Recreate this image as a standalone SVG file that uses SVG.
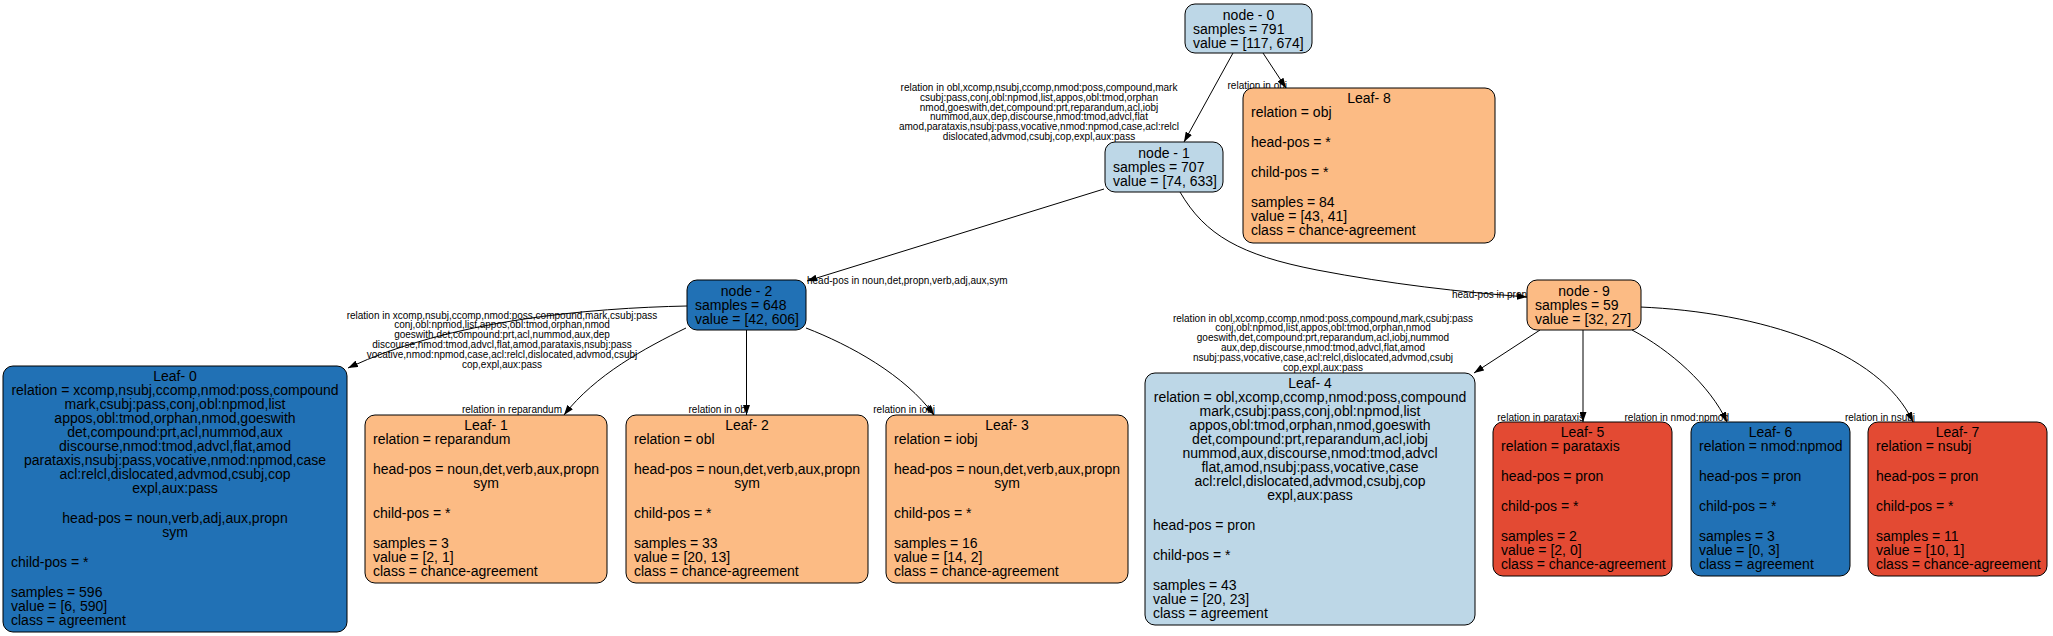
<svg xmlns="http://www.w3.org/2000/svg" width="2053" height="636" viewBox="0 0 2053 636">
<defs>
<style>
.t{font-family:"Liberation Sans",Arial,Helvetica,sans-serif;font-size:14px;fill:#000}
.c{text-anchor:middle}
.e{font-family:"Liberation Sans",Arial,Helvetica,sans-serif;font-size:10px;fill:#000}
.em{text-anchor:middle}
.ee{text-anchor:end}
.box{stroke:#000;stroke-width:1}
.lb{fill:#bdd7e7}
.db{fill:#2171b5}
.or{fill:#fcbb84}
.rd{fill:#e34a33}
.edge path{fill:none;stroke:#000;stroke-width:1;marker-end:url(#ah)}
</style>
<marker id="ah" markerWidth="10" markerHeight="7" refX="10" refY="3.5" orient="auto" markerUnits="userSpaceOnUse"><path d="M0,0 L10,3.5 L0,7 z" fill="#000"/></marker>
</defs>
<rect x="0" y="0" width="2053" height="636" fill="#fff"/>

<g id="connectors" class="edge">
<path d="M1233,53 L1184,142"/>
<path d="M1263,53 L1286,88"/>
<path d="M1104,189 L807,281"/>
<path d="M1180,192 C1205,235 1240,255 1317,270 C1390,284 1460,292 1527,297"/>
<path d="M687,306 C590,308 450,320 348,368"/>
<path d="M686,328 C645,348 595,375 564,415"/>
<path d="M746.5,330 L746.5,415"/>
<path d="M806,328 C850,345 905,375 934,415"/>
<path d="M1540,330 L1474,373"/>
<path d="M1583,330 L1583,422"/>
<path d="M1632,330 C1670,350 1710,385 1727,422"/>
<path d="M1640,307 C1760,312 1880,350 1913,422"/>
</g>

<g id="edge-labels">
<text class="e em" x="1039"><tspan x="1039" y="90.8">relation in obl,xcomp,nsubj,ccomp,nmod:poss,compound,mark</tspan><tspan x="1039" y="100.7">csubj:pass,conj,obl:npmod,list,appos,obl:tmod,orphan</tspan><tspan x="1039" y="110.5">nmod,goeswith,det,compound:prt,reparandum,acl,iobj</tspan><tspan x="1039" y="120.4">nummod,aux,dep,discourse,nmod:tmod,advcl,flat</tspan><tspan x="1039" y="130.2">amod,parataxis,nsubj:pass,vocative,nmod:npmod,case,acl:relcl</tspan><tspan x="1039" y="140.1">dislocated,advmod,csubj,cop,expl,aux:pass</tspan></text>
<text class="e ee" x="1287" y="88.5">relation in obj</text>
<text class="e" x="807" y="283.5">head-pos in noun,det,propn,verb,adj,aux,sym</text>
<text class="e" x="1452" y="297.5">head-pos in pron</text>
<text class="e em" x="502"><tspan x="502" y="318.5">relation in xcomp,nsubj,ccomp,nmod:poss,compound,mark,csubj:pass</tspan><tspan x="502" y="328.3">conj,obl:npmod,list,appos,obl:tmod,orphan,nmod</tspan><tspan x="502" y="338.1">goeswith,det,compound:prt,acl,nummod,aux,dep</tspan><tspan x="502" y="348">discourse,nmod:tmod,advcl,flat,amod,parataxis,nsubj:pass</tspan><tspan x="502" y="357.8">vocative,nmod:npmod,case,acl:relcl,dislocated,advmod,csubj</tspan><tspan x="502" y="367.6">cop,expl,aux:pass</tspan></text>
<text class="e em" x="1323"><tspan x="1323" y="321.5">relation in obl,xcomp,ccomp,nmod:poss,compound,mark,csubj:pass</tspan><tspan x="1323" y="331.4">conj,obl:npmod,list,appos,obl:tmod,orphan,nmod</tspan><tspan x="1323" y="341.2">goeswith,det,compound:prt,reparandum,acl,iobj,nummod</tspan><tspan x="1323" y="351.1">aux,dep,discourse,nmod:tmod,advcl,flat,amod</tspan><tspan x="1323" y="360.9">nsubj:pass,vocative,case,acl:relcl,dislocated,advmod,csubj</tspan><tspan x="1323" y="370.8">cop,expl,aux:pass</tspan></text>
<text class="e ee" x="562" y="412.5">relation in reparandum</text>
<text class="e ee" x="748" y="412.5">relation in obl</text>
<text class="e ee" x="935" y="412.5">relation in iobj</text>
<text class="e ee" x="1584" y="420.5">relation in parataxis</text>
<text class="e ee" x="1729" y="420.5">relation in nmod:npmod</text>
<text class="e ee" x="1915" y="420.5">relation in nsubj</text>
</g>

<g id="node0">
<rect class="box lb" x="1185" y="4" width="127" height="49" rx="10"/>
<text class="t c" x="1248.5" y="19.5">node - 0</text>
<text class="t" x="1193" y="33.5">samples = 791</text>
<text class="t" x="1193" y="47.5">value = [117, 674]</text>
</g>

<g id="node1">
<rect class="box lb" x="1105" y="142" width="118" height="50" rx="10"/>
<text class="t c" x="1164" y="157.5">node - 1</text>
<text class="t" x="1113" y="171.5">samples = 707</text>
<text class="t" x="1113" y="185.5">value = [74, 633]</text>
</g>

<g id="node2">
<rect class="box db" x="687" y="280" width="119" height="50" rx="10"/>
<text class="t c" x="746.5" y="295.5">node - 2</text>
<text class="t" x="695" y="309.5">samples = 648</text>
<text class="t" x="695" y="323.5">value = [42, 606]</text>
</g>

<g id="node9">
<rect class="box or" x="1527" y="280" width="114" height="50" rx="10"/>
<text class="t c" x="1584" y="295.5">node - 9</text>
<text class="t" x="1535" y="309.5">samples = 59</text>
<text class="t" x="1535" y="323.5">value = [32, 27]</text>
</g>

<g id="leaf8">
<rect class="box or" x="1243" y="88" width="252" height="155" rx="10"/>
<text class="t c" x="1369" y="102.7">Leaf- 8</text>
<text class="t" x="1251" y="116.7">relation = obj</text>
<text class="t" x="1251" y="146.8">head-pos = *</text>
<text class="t" x="1251" y="176.9">child-pos = *</text>
<text class="t" x="1251" y="207">samples = 84</text>
<text class="t" x="1251" y="221">value = [43, 41]</text>
<text class="t" x="1251" y="235">class = chance-agreement</text>
</g>

<g id="leaf0">
<rect class="box db" x="3" y="366" width="344" height="266" rx="10"/>
<text class="t c" x="175" y="380.7">Leaf- 0</text>
<text class="t c" x="175" y="394.7">relation = xcomp,nsubj,ccomp,nmod:poss,compound</text>
<text class="t c" x="175" y="408.7">mark,csubj:pass,conj,obl:npmod,list</text>
<text class="t c" x="175" y="422.7">appos,obl:tmod,orphan,nmod,goeswith</text>
<text class="t c" x="175" y="436.7">det,compound:prt,acl,nummod,aux</text>
<text class="t c" x="175" y="450.7">discourse,nmod:tmod,advcl,flat,amod</text>
<text class="t c" x="175" y="464.7">parataxis,nsubj:pass,vocative,nmod:npmod,case</text>
<text class="t c" x="175" y="478.7">acl:relcl,dislocated,advmod,csubj,cop</text>
<text class="t c" x="175" y="492.7">expl,aux:pass</text>
<text class="t c" x="175" y="522.8">head-pos = noun,verb,adj,aux,propn</text>
<text class="t c" x="175" y="536.8">sym</text>
<text class="t" x="11" y="566.9">child-pos = *</text>
<text class="t" x="11" y="597">samples = 596</text>
<text class="t" x="11" y="611">value = [6, 590]</text>
<text class="t" x="11" y="625">class = agreement</text>
</g>

<g id="leaf1">
<rect class="box or" x="365" y="415" width="242" height="168" rx="10"/>
<text class="t c" x="486" y="429.7">Leaf- 1</text>
<text class="t" x="373" y="443.7">relation = reparandum</text>
<text class="t c" x="486" y="473.8">head-pos = noun,det,verb,aux,propn</text>
<text class="t c" x="486" y="487.8">sym</text>
<text class="t" x="373" y="517.9">child-pos = *</text>
<text class="t" x="373" y="548">samples = 3</text>
<text class="t" x="373" y="562">value = [2, 1]</text>
<text class="t" x="373" y="576">class = chance-agreement</text>
</g>

<g id="leaf2">
<rect class="box or" x="626" y="415" width="242" height="168" rx="10"/>
<text class="t c" x="747" y="429.7">Leaf- 2</text>
<text class="t" x="634" y="443.7">relation = obl</text>
<text class="t c" x="747" y="473.8">head-pos = noun,det,verb,aux,propn</text>
<text class="t c" x="747" y="487.8">sym</text>
<text class="t" x="634" y="517.9">child-pos = *</text>
<text class="t" x="634" y="548">samples = 33</text>
<text class="t" x="634" y="562">value = [20, 13]</text>
<text class="t" x="634" y="576">class = chance-agreement</text>
</g>

<g id="leaf3">
<rect class="box or" x="886" y="415" width="242" height="168" rx="10"/>
<text class="t c" x="1007" y="429.7">Leaf- 3</text>
<text class="t" x="894" y="443.7">relation = iobj</text>
<text class="t c" x="1007" y="473.8">head-pos = noun,det,verb,aux,propn</text>
<text class="t c" x="1007" y="487.8">sym</text>
<text class="t" x="894" y="517.9">child-pos = *</text>
<text class="t" x="894" y="548">samples = 16</text>
<text class="t" x="894" y="562">value = [14, 2]</text>
<text class="t" x="894" y="576">class = chance-agreement</text>
</g>

<g id="leaf4">
<rect class="box lb" x="1145" y="373" width="330" height="252" rx="10"/>
<text class="t c" x="1310" y="387.7">Leaf- 4</text>
<text class="t c" x="1310" y="401.7">relation = obl,xcomp,ccomp,nmod:poss,compound</text>
<text class="t c" x="1310" y="415.7">mark,csubj:pass,conj,obl:npmod,list</text>
<text class="t c" x="1310" y="429.7">appos,obl:tmod,orphan,nmod,goeswith</text>
<text class="t c" x="1310" y="443.7">det,compound:prt,reparandum,acl,iobj</text>
<text class="t c" x="1310" y="457.7">nummod,aux,discourse,nmod:tmod,advcl</text>
<text class="t c" x="1310" y="471.7">flat,amod,nsubj:pass,vocative,case</text>
<text class="t c" x="1310" y="485.7">acl:relcl,dislocated,advmod,csubj,cop</text>
<text class="t c" x="1310" y="499.7">expl,aux:pass</text>
<text class="t" x="1153" y="529.8">head-pos = pron</text>
<text class="t" x="1153" y="559.9">child-pos = *</text>
<text class="t" x="1153" y="590">samples = 43</text>
<text class="t" x="1153" y="604">value = [20, 23]</text>
<text class="t" x="1153" y="618">class = agreement</text>
</g>

<g id="leaf5">
<rect class="box rd" x="1493" y="422" width="179" height="154" rx="10"/>
<text class="t c" x="1582.5" y="436.7">Leaf- 5</text>
<text class="t" x="1501" y="450.7">relation = parataxis</text>
<text class="t" x="1501" y="480.8">head-pos = pron</text>
<text class="t" x="1501" y="510.9">child-pos = *</text>
<text class="t" x="1501" y="541">samples = 2</text>
<text class="t" x="1501" y="555">value = [2, 0]</text>
<text class="t" x="1501" y="569">class = chance-agreement</text>
</g>

<g id="leaf6">
<rect class="box db" x="1691" y="422" width="159" height="154" rx="10"/>
<text class="t c" x="1770.5" y="436.7">Leaf- 6</text>
<text class="t" x="1699" y="450.7">relation = nmod:npmod</text>
<text class="t" x="1699" y="480.8">head-pos = pron</text>
<text class="t" x="1699" y="510.9">child-pos = *</text>
<text class="t" x="1699" y="541">samples = 3</text>
<text class="t" x="1699" y="555">value = [0, 3]</text>
<text class="t" x="1699" y="569">class = agreement</text>
</g>

<g id="leaf7">
<rect class="box rd" x="1868" y="422" width="179" height="154" rx="10"/>
<text class="t c" x="1957.5" y="436.7">Leaf- 7</text>
<text class="t" x="1876" y="450.7">relation = nsubj</text>
<text class="t" x="1876" y="480.8">head-pos = pron</text>
<text class="t" x="1876" y="510.9">child-pos = *</text>
<text class="t" x="1876" y="541">samples = 11</text>
<text class="t" x="1876" y="555">value = [10, 1]</text>
<text class="t" x="1876" y="569">class = chance-agreement</text>
</g>
</svg>
